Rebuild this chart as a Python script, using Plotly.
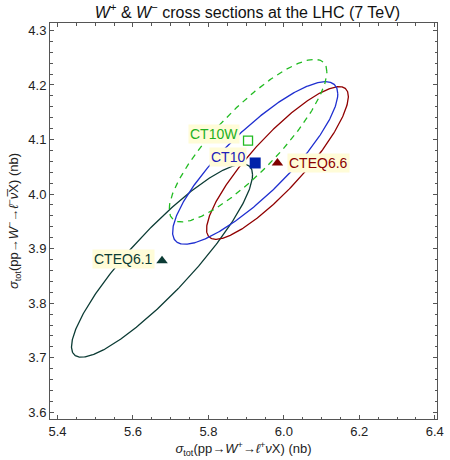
import numpy as np
import plotly.graph_objects as go

# ---- data ----
pdf_names = ["CTEQ6.1", "CTEQ6.6", "CT10", "CT10W"]
sigma_wplus = [5.677, 5.983, 5.924, 5.905]      # central sigma(W+) [nb]
sigma_wminus = [3.878, 4.057, 4.057, 4.098]     # central sigma(W-) [nb]
err_wplus = [0.240, 0.188, 0.219, 0.209]        # half-width of ellipse in x
err_wminus = [0.177, 0.140, 0.149, 0.149]       # half-height of ellipse in y
correlation = [0.89, 0.87, 0.85, 0.845]

x_ticks = [5.4, 5.6, 5.8, 6.0, 6.2, 6.4]
y_ticks = [3.6, 3.7, 3.8, 3.9, 4.0, 4.1, 4.2, 4.3]

# ---- styles ----
colors = {"CTEQ6.1": "#0b3b34", "CTEQ6.6": "#900000", "CT10": "#1f2fd0", "CT10W": "#22bb22"}
text_colors = {"CTEQ6.1": "#0b3b34", "CTEQ6.6": "#8b0000", "CT10": "#2020b8", "CT10W": "#22b022"}
dashes = {"CTEQ6.1": "solid", "CTEQ6.6": "solid", "CT10": "solid", "CT10W": "6px,5px"}
symbols = {"CTEQ6.1": "triangle-up", "CTEQ6.6": "triangle-up", "CT10": "square", "CT10W": "square-open"}
msizes = {"CTEQ6.1": 10, "CTEQ6.6": 10, "CT10": 11, "CT10W": 9}
marker_colors = {"CTEQ6.1": "#0b3b34", "CTEQ6.6": "#800000", "CT10": "#0022aa", "CT10W": "#22bb22"}
label_pos = {  # (xanchor, xshift, yshift)
    "CTEQ6.1": ("right", -7, 2),
    "CTEQ6.6": ("left", 10, 0),
    "CT10": ("right", -8, 6),
    "CT10W": ("right", -8, 7),
}

fig = go.Figure()
t = np.linspace(0, 2 * np.pi, 400)
for name, x0, y0, sx, sy, rho in zip(pdf_names, sigma_wplus, sigma_wminus, err_wplus, err_wminus, correlation):
    phi = np.arccos(rho)
    fig.add_trace(go.Scatter(
        x=x0 + sx * np.cos(t), y=y0 + sy * np.cos(t - phi),
        mode="lines", line=dict(color=colors[name], width=1.3, dash=dashes[name]),
        hoverinfo="skip", showlegend=False))

for name, x0, y0 in zip(pdf_names, sigma_wplus, sigma_wminus):
    fig.add_trace(go.Scatter(
        x=[x0], y=[y0], mode="markers",
        marker=dict(symbol=symbols[name], size=msizes[name], color=marker_colors[name],
                    line=dict(color=marker_colors[name], width=1.3 if "open" in symbols[name] else 0)),
        showlegend=False, name=name))
    xa, xs, ys = label_pos[name]
    fig.add_annotation(x=x0, y=y0, xref="x", yref="y", text=name, showarrow=False,
                       xanchor=xa, yanchor="middle", xshift=xs, yshift=ys,
                       font=dict(family="Liberation Sans, Arial, sans-serif", size=14, color=text_colors[name]),
                       bgcolor="#fffcd8", borderpad=1)

axis_common = dict(
    showgrid=False, zeroline=False, showline=True, linecolor="#555555", linewidth=1,
    mirror="allticks", ticks="inside", ticklen=4, tickwidth=1, tickcolor="#555555",
    tickfont=dict(family="Liberation Sans, Arial, sans-serif", size=13, color="#222222"),
    tickformat=".1f", ticklabeloverflow="allow",
)
fig.update_xaxes(**axis_common, range=[5.380, 6.406], tickvals=x_ticks,
                 minor=dict(dtick=0.05, tick0=5.4, ticks="inside", ticklen=2.5, tickcolor="#555555"),
                 title=dict(text="<i>σ</i><sub>tot</sub>(pp→<i>W</i><sup>+</sup>→<i>ℓ</i><sup>+</sup><i>ν</i>X) (nb)",
                            font=dict(family="Liberation Sans, Arial, sans-serif", size=13, color="#222222"),
                            standoff=6))
fig.update_yaxes(**axis_common, range=[3.5877, 4.3136], tickvals=y_ticks,
                 minor=dict(dtick=0.02, tick0=3.6, ticks="inside", ticklen=2.5, tickcolor="#555555"),
                 title=dict(text="<i>σ</i><sub>tot</sub>(pp→<i>W</i><sup>−</sup>→<i>ℓ</i><sup>−</sup><i>ν̅</i>X) (nb)",
                            font=dict(family="Liberation Sans, Arial, sans-serif", size=13, color="#222222"),
                            standoff=6))

fig.update_layout(
    width=450, height=460, autosize=False,
    margin=dict(l=50, r=6, t=23, b=41),
    paper_bgcolor="white", plot_bgcolor="white",
    title=dict(text="<i>W</i><sup>+</sup> &amp; <i>W</i><sup>−</sup> cross sections at the LHC (7 TeV)",
               x=0.55, xanchor="center", y=0.985, yanchor="top",
               font=dict(family="Liberation Sans, Arial, sans-serif", size=16, color="#111111")),
)

fig.write_html("out.html")
